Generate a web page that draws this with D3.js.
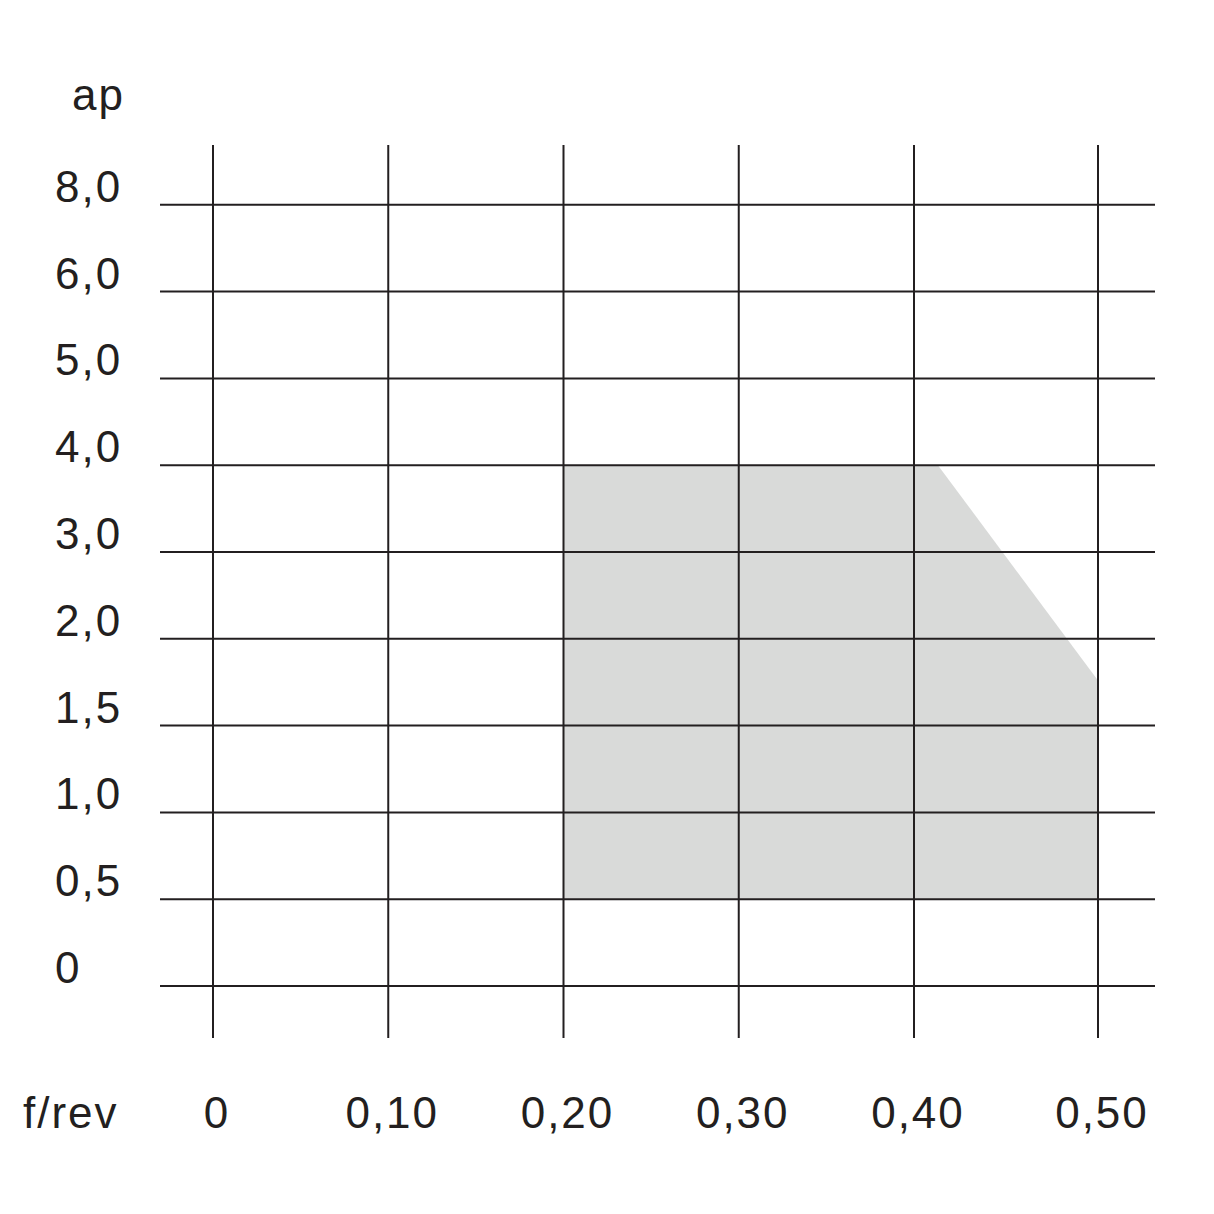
<!DOCTYPE html>
<html lang="en">
<head>
    <meta charset="UTF-8">
    <script src="https://d3js.org/d3.v7.min.js" charset="utf-8"></script>
    <title>ap / f</title>
    <style>
        body { margin: 0; background: white; }
        text { font-family: "Liberation Sans", Arial, sans-serif; font-size: 44px; letter-spacing: 2px; fill: #231f20; }
    </style>
</head>
<body>
<div id="chart"></div>
<script>
    const width = 1214;
    const height = 1214;

    // feed values (f/rev) and depth of cut values (ap)
    const feedTicks = [0, 0.10, 0.20, 0.30, 0.40, 0.50];
    const feedLabels = ["0", "0,10", "0,20", "0,30", "0,40", "0,50"];
    const apTicks = [0, 0.5, 1.0, 1.5, 2.0, 3.0, 4.0, 5.0, 6.0, 8.0];
    const apLabels = ["0", "0,5", "1,0", "1,5", "2,0", "3,0", "4,0", "5,0", "6,0", "8,0"];

    // recommended working area (f, ap)
    const areaF = [0.20, 0.20, 0.413, 0.50, 0.50];
    const areaAp = [0.5, 4.0, 4.0, 1.76, 0.5];

    // the chart spaces the ticks unevenly, so both scales are piecewise
    const x = d3.scaleLinear()
        .domain([0, 0.40, 0.50])
        .range([213, 914, 1098]);

    const y = d3.scaleLinear()
        .domain(apTicks)
        .range(apTicks.map((d, i) => 986 - i * 86.8));

    const svg = d3.select("#chart").append("svg")
        .attr("width", width)
        .attr("height", height);

    // shaded area
    const area = areaF.map((f, i) => [x(f), y(areaAp[i])]);
    svg.append("path")
        .attr("d", d3.line()(area) + "Z")
        .attr("fill", "#d9dad9");

    // grid lines
    svg.append("g").selectAll("line")
        .data(apTicks)
        .join("line")
        .attr("x1", 160).attr("x2", 1155)
        .attr("y1", d => y(d)).attr("y2", d => y(d))
        .attr("stroke", "#231f20").attr("stroke-width", 2);

    svg.append("g").selectAll("line")
        .data(feedTicks)
        .join("line")
        .attr("x1", d => x(d)).attr("x2", d => x(d))
        .attr("y1", 145).attr("y2", 1038)
        .attr("stroke", "#231f20").attr("stroke-width", 2);

    // y labels
    svg.append("g").selectAll("text")
        .data(apTicks)
        .join("text")
        .attr("x", 55)
        .attr("y", d => y(d) - 3)
        .text((d, i) => apLabels[i]);

    // x labels
    svg.append("g").selectAll("text")
        .data(feedTicks)
        .join("text")
        .attr("x", d => x(d) + 4)
        .attr("y", 1128)
        .attr("text-anchor", "middle")
        .text((d, i) => feedLabels[i]);

    // axis titles
    svg.append("text").attr("x", 72).attr("y", 110).text("ap");
    svg.append("text").attr("x", 23).attr("y", 1128).text("f/rev");
</script>
</body>
</html>
